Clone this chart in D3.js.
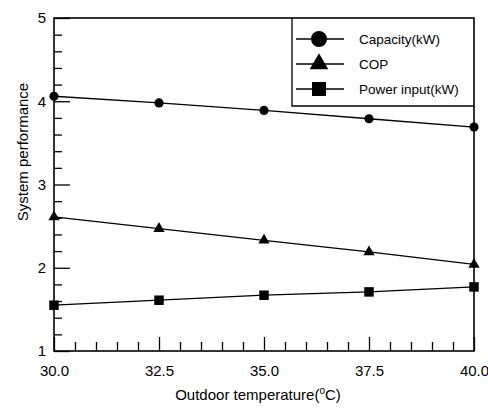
<!DOCTYPE html>
<html>
<head>
<meta charset="utf-8">
<script src="https://cdn.jsdelivr.net/npm/d3@7"></script>
<style>
  html, body { margin: 0; padding: 0; background: #fff; }
  svg { display: block; font-family: "Liberation Sans", Arial, Helvetica, sans-serif; }
</style>
</head>
<body>
<svg id="chart" width="488" height="411"></svg>
<script>
// Outdoor temperature (°C)
const temperatures = [30.0, 32.5, 35.0, 37.5, 40.0];
// System performance series
const capacity = [4.06, 3.98, 3.89, 3.79, 3.69];   // kW
const cop = [2.61, 2.47, 2.33, 2.19, 2.04];
const powerInput = [1.55, 1.61, 1.67, 1.71, 1.77]; // kW

const xTicks = [30.0, 32.5, 35.0, 37.5, 40.0];
const yTicks = [1, 2, 3, 4, 5];
const seriesNames = ["Capacity(kW)", "COP", "Power input(kW)"];

const svg = d3.select("#chart");
const margin = { left: 54, right: 14, top: 18, bottom: 60 };
const W = 488, H = 411;
const x0 = margin.left, x1 = W - margin.right;
const y0 = H - margin.bottom, y1 = margin.top;

const x = d3.scaleLinear().domain([30, 40]).range([x0, x1]);
const y = d3.scaleLinear().domain([1, 5]).range([y0, y1]);

// minor ticks (inward)
const xMinor = d3.range(30, 40.001, 0.5).filter(v => !xTicks.some(t => Math.abs(t - v) < 1e-6));
const yMinor = d3.range(1, 5.001, 0.2).filter(v => !yTicks.some(t => Math.abs(t - v) < 1e-6));

svg.append("g")
  .attr("transform", `translate(0,${y0})`)
  .call(d3.axisBottom(x).tickValues(xMinor).tickSize(-9).tickFormat(""))
  .call(g => g.select(".domain").remove());
svg.append("g")
  .attr("transform", `translate(${x0},0)`)
  .call(d3.axisLeft(y).tickValues(yMinor).tickSize(-8).tickFormat(""))
  .call(g => g.select(".domain").remove());

const xAxis = svg.append("g")
  .attr("transform", `translate(0,${y0})`)
  .call(d3.axisBottom(x).tickValues(xTicks).tickSize(-14).tickPadding(14).tickFormat(d3.format(".1f")))
  .call(g => g.select(".domain").remove());
xAxis.selectAll("text").attr("font-size", 15).attr("fill", "#000");

const yAxis = svg.append("g")
  .attr("transform", `translate(${x0},0)`)
  .call(d3.axisLeft(y).tickValues(yTicks).tickSize(-16).tickPadding(8).tickFormat(d3.format("d")))
  .call(g => g.select(".domain").remove());
yAxis.selectAll("text").attr("font-size", 15).attr("fill", "#000");

svg.selectAll(".tick line").attr("stroke", "#000").attr("stroke-width", 1.3);

// frame
svg.append("rect")
  .attr("x", x0).attr("y", y1)
  .attr("width", x1 - x0).attr("height", y0 - y1)
  .attr("fill", "none").attr("stroke", "#000").attr("stroke-width", 1.6);

// axis titles
const xt = svg.append("text")
  .attr("x", (x0 + x1) / 2 - 6).attr("y", 400)
  .attr("text-anchor", "middle").attr("font-size", 15).attr("fill", "#000");
xt.append("tspan").text("Outdoor temperature(");
xt.append("tspan").attr("font-size", 10).attr("dy", -6).text("o");
xt.append("tspan").attr("dy", 6).text("C)");

svg.append("text")
  .attr("transform", `translate(28,152) rotate(-90)`)
  .attr("text-anchor", "middle").attr("font-size", 15).attr("fill", "#000")
  .text("System performance");

// series
const series = [
  { name: seriesNames[0], values: capacity, shape: "circle" },
  { name: seriesNames[1], values: cop, shape: "triangle" },
  { name: seriesNames[2], values: powerInput, shape: "square" }
];

const line = d3.line().x(d => x(d[0])).y(d => y(d[1]));

function drawMarker(g, shape, cx, cy, big) {
  if (shape === "circle") {
    g.append("circle").attr("cx", cx).attr("cy", cy).attr("r", big ? 8 : 4.6).attr("fill", "#000");
  } else {
    const sym = shape === "triangle" ? d3.symbolTriangle : d3.symbolSquare;
    const size = shape === "triangle" ? (big ? 150 : 55) : (big ? 196 : 90);
    g.append("path")
      .attr("transform", `translate(${cx},${cy})`)
      .attr("d", d3.symbol().type(sym).size(size)())
      .attr("fill", "#000");
  }
}

series.forEach(s => {
  const pts = temperatures.map((t, i) => [t, s.values[i]]);
  svg.append("path")
    .attr("d", line(pts))
    .attr("fill", "none").attr("stroke", "#000").attr("stroke-width", 1.3);
  const g = svg.append("g");
  pts.forEach(p => drawMarker(g, s.shape, x(p[0]), y(p[1]), false));
});

// legend
const lgLeft = 292, lgBottom = 106;
svg.append("path")
  .attr("d", `M${lgLeft},${y1}V${lgBottom}H${x1}`)
  .attr("fill", "none").attr("stroke", "#000").attr("stroke-width", 1.3);

const lgRows = [39, 64, 89];
series.forEach((s, i) => {
  const g = svg.append("g");
  const cy = lgRows[i];
  g.append("line").attr("x1", 296).attr("x2", 344).attr("y1", cy).attr("y2", cy)
    .attr("stroke", "#000").attr("stroke-width", 1.3);
  drawMarker(g, s.shape, 319, cy, true);
  g.append("text").attr("x", 359).attr("y", cy + 5)
    .attr("font-size", 13.5).attr("fill", "#000").text(s.name);
});
</script>
</body>
</html>
